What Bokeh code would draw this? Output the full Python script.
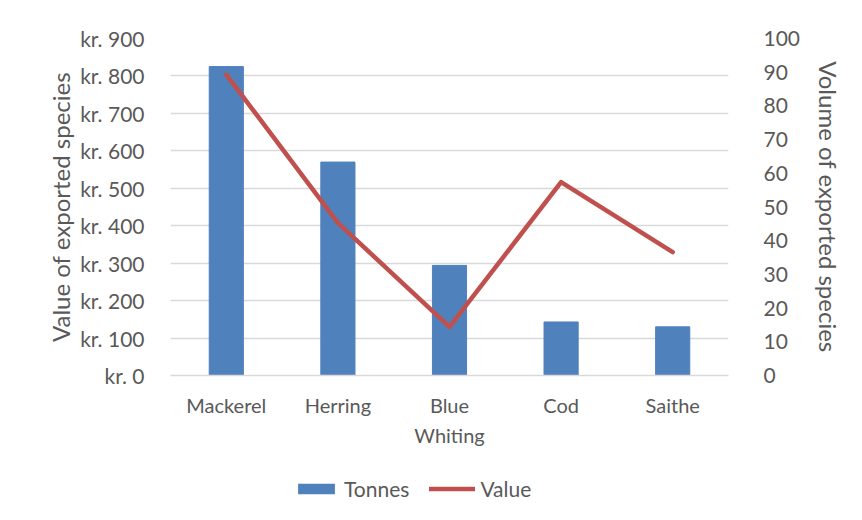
from bokeh.plotting import figure
from bokeh.layouts import column
from bokeh.models import (Range1d, LinearAxis, Legend, LegendItem,
                          ColumnDataSource, FixedTicker, CustomJSTickFormatter)
from bokeh.embed import file_html
from bokeh.resources import INLINE

species = ["Mackerel", "Herring", "Blue Whiting", "Cod", "Saithe"]
tonnes = [825, 570, 294, 143, 130]
value = [89.3, 45.3, 14.4, 57.4, 36.6]
left_ticks = [0, 100, 200, 300, 400, 500, 600, 700, 800, 900]
right_ticks = [0, 10, 20, 30, 40, 50, 60, 70, 80, 90, 100]

FONT = "Lato"
TXT = "#595959"
GRID = "#D9D9D9"
BAR = "#4F81BD"
LINE = "#C0504D"

pos = list(range(len(species)))
src = ColumnDataSource(dict(x=pos, tonnes=tonnes, value=value))

p = figure(width=846, height=460, x_range=Range1d(-0.5, len(species) - 0.5),
           y_range=Range1d(0, 900), output_backend="svg", toolbar_location=None,
           min_border_left=170, min_border_right=106, min_border_top=38, min_border_bottom=85)
p.outline_line_color = None
p.background_fill_color = "white"
p.border_fill_color = "white"

p.extra_y_ranges = {"right": Range1d(0, 100)}

p.vbar(x="x", top="tonnes", width=0.306, source=src, color=BAR)
p.line(x="x", y="value", source=src, y_range_name="right", line_color=LINE,
       line_width=4.5, line_join="round", line_cap="round")

p.xgrid.grid_line_color = None
p.ygrid.grid_line_color = GRID
p.ygrid.grid_line_width = 1.3
p.yaxis.ticker = FixedTicker(ticks=left_ticks)
p.yaxis.formatter = CustomJSTickFormatter(code="return 'kr. ' + tick;")
p.yaxis.axis_label = "Value of exported species"

ra = LinearAxis(y_range_name="right", ticker=FixedTicker(ticks=right_ticks),
                axis_label="Volume of exported species")
p.add_layout(ra, "right")

for ax in [p.yaxis[0], ra]:
    ax.axis_line_color = None
    ax.major_tick_line_color = None
    ax.minor_tick_line_color = None
    ax.major_label_text_font = FONT
    ax.major_label_text_font_size = "21px"
    ax.major_label_text_color = TXT
    ax.axis_label_text_font = FONT
    ax.axis_label_text_font_size = "24px"
    ax.axis_label_text_color = TXT
    ax.axis_label_text_font_style = "normal"
p.yaxis[0].major_label_standoff = 20
p.yaxis[0].axis_label_standoff = 2
ra.major_label_standoff = 29
ra.axis_label_standoff = 11

# category labels: first line on main axis, second line ("Whiting") on a second axis
first_line = {i: s.split(" ")[0] for i, s in enumerate(species)}
second_line = {i: s.split(" ")[1] for i, s in enumerate(species) if " " in s}

xa = p.xaxis[0]
xa.ticker = FixedTicker(ticks=pos)
xa.major_label_overrides = first_line
xa.axis_line_color = GRID
xa.axis_line_width = 1.3
xa.major_tick_line_color = None
xa.minor_tick_line_color = None
xa.major_label_text_font = FONT
xa.major_label_text_font_size = "20px"
xa.major_label_text_color = TXT
xa.major_label_standoff = 11

xa2 = LinearAxis(ticker=FixedTicker(ticks=list(second_line.keys())))
xa2.major_label_overrides = second_line
xa2.axis_line_color = None
xa2.major_tick_line_color = None
xa2.minor_tick_line_color = None
xa2.major_label_text_font = FONT
xa2.major_label_text_font_size = "20px"
xa2.major_label_text_color = TXT
xa2.major_label_standoff = -3
p.add_layout(xa2, "below")

# legend strip below the chart (same data, lying outside this strip's visible range)
lg = figure(width=846, height=44, x_range=Range1d(-0.5, len(species) - 0.5),
            y_range=Range1d(5000, 5001), output_backend="svg", toolbar_location=None,
            min_border_left=0, min_border_right=0, min_border_top=0, min_border_bottom=0)
lg.axis.visible = False
lg.grid.visible = False
lg.outline_line_color = None
lg.background_fill_color = "white"
lg.border_fill_color = "white"
key_bar = lg.vbar(x="x", top="tonnes", width=0.306, source=src, fill_color=BAR, line_color=None)
key_line = lg.line(x="x", y="value", source=src, line_color=LINE, line_width=4.5, line_cap="round")
legend = Legend(items=[LegendItem(label="Tonnes", renderers=[key_bar]),
                       LegendItem(label="Value", renderers=[key_line])],
                orientation="horizontal", location=(123, 3),
                label_text_font=FONT, label_text_font_size="21px", label_text_color=TXT,
                glyph_width=46, glyph_height=13, label_standoff=5, spacing=20,
                padding=0, margin=0, border_line_alpha=0, background_fill_alpha=0)
lg.add_layout(legend, "center")

layout = column(p, lg, spacing=0)
open("out.html", "w").write(file_html(layout, INLINE))
